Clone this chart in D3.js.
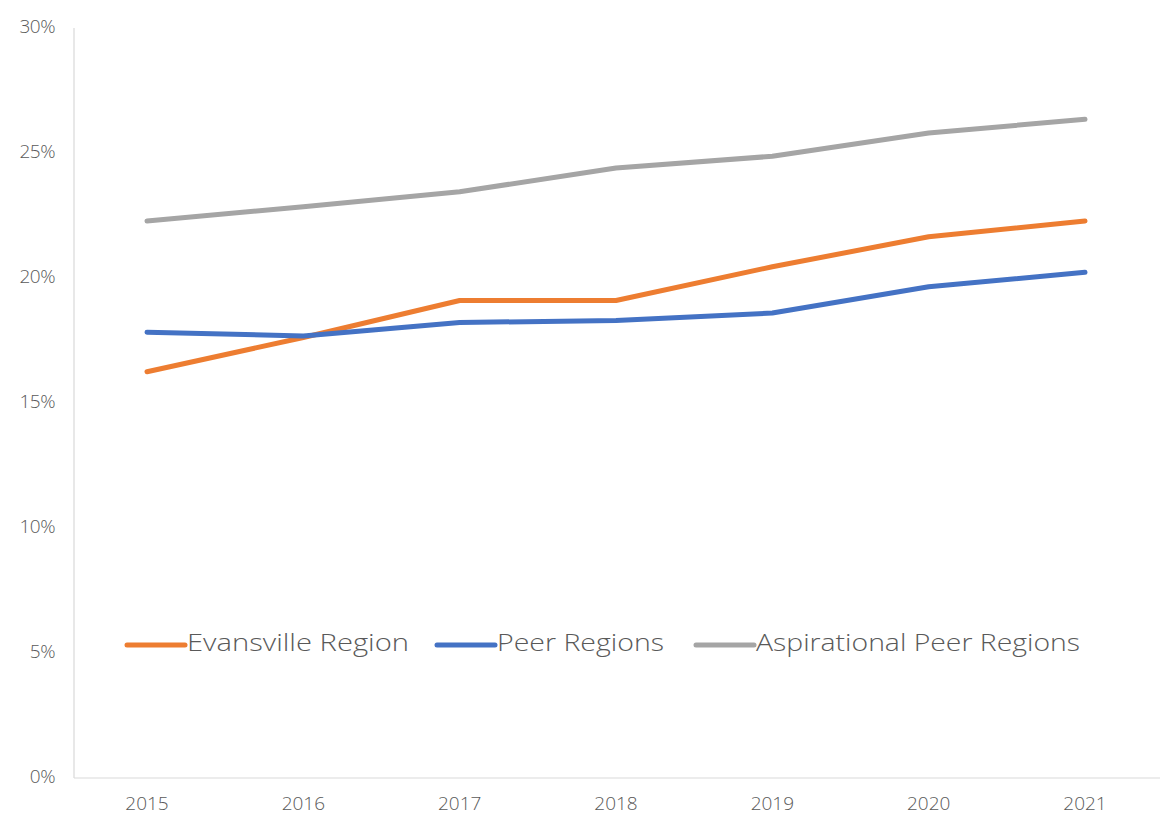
<!DOCTYPE html>
<html>
<head>
<meta charset="utf-8">
<script src="https://cdn.jsdelivr.net/npm/d3@7"></script>
<style>
  html, body { margin: 0; padding: 0; background: #fff; }
  svg { display: block; }
  text { font-family: "Open Sans", "Lato", sans-serif; font-weight: 300; fill: #595959; }
</style>
</head>
<body>
<svg id="chart" width="1160" height="818"></svg>
<script>
const years = ["2015", "2016", "2017", "2018", "2019", "2020", "2021"];
const evansville = [16.25, 17.62, 19.1, 19.1, 20.45, 21.65, 22.28];
const peer = [17.83, 17.68, 18.22, 18.3, 18.6, 19.65, 20.23];
const aspirational = [22.28, 22.85, 23.45, 24.4, 24.87, 25.8, 26.35];
const yTicks = [0, 5, 10, 15, 20, 25, 30];
const seriesNames = ["Evansville Region", "Peer Regions", "Aspirational Peer Regions"];
const seriesColors = ["#ED7D31", "#4472C4", "#A5A5A5"];

const series = [evansville, peer, aspirational].map((vals, i) => ({
  name: seriesNames[i], color: seriesColors[i],
  values: vals.map((v, j) => ({ year: years[j], value: v }))
}));

const svg = d3.select("#chart");
const plotLeft = 74, plotTop = 28, plotBottom = 778;

const x = d3.scalePoint().domain(years).range([147, 1085]);
const y = d3.scaleLinear().domain([0, 30]).range([plotBottom, plotTop]);

// axis lines
svg.append("line").attr("x1", plotLeft).attr("x2", plotLeft)
  .attr("y1", plotTop).attr("y2", plotBottom)
  .attr("stroke", "#d9d9d9").attr("stroke-width", 1.2);
svg.append("line").attr("x1", plotLeft).attr("x2", 1160)
  .attr("y1", plotBottom).attr("y2", plotBottom)
  .attr("stroke", "#d9d9d9").attr("stroke-width", 1.2);

// y tick labels
svg.append("g").selectAll("text").data(yTicks).join("text")
  .attr("x", 55).attr("y", d => y(d))
  .attr("text-anchor", "end").attr("dominant-baseline", "middle")
  .attr("font-size", 19)
  .attr("letter-spacing", -0.5)
  .text(d => d + "%");

// x tick labels
svg.append("g").selectAll("text").data(years).join("text")
  .attr("x", d => x(d)).attr("y", 810)
  .attr("text-anchor", "middle")
  .attr("font-size", 19)
  .text(d => d);

// lines
const line = d3.line()
  .x(d => x(d.year))
  .y(d => y(d.value));

svg.append("g").selectAll("path").data(series).join("path")
  .attr("d", d => line(d.values))
  .attr("fill", "none")
  .attr("stroke", d => d.color)
  .attr("stroke-width", 5)
  .attr("stroke-linejoin", "round")
  .attr("stroke-linecap", "round");

// legend
const legendX = [127, 437, 696];
const legendTextW = [222, 167, 324];
const legendY = 645;
const lg = svg.append("g").selectAll("g").data(series).join("g")
  .attr("transform", (d, i) => `translate(${legendX[i]},${legendY})`);
lg.append("line").attr("x1", 0).attr("x2", 58).attr("y1", 0).attr("y2", 0)
  .attr("stroke", d => d.color).attr("stroke-width", 5).attr("stroke-linecap", "round");
lg.append("text").attr("x", 60).attr("y", 0)
  .attr("dominant-baseline", "middle")
  .attr("font-size", 23)
  .attr("textLength", (d, i) => legendTextW[i])
  .attr("lengthAdjust", "spacingAndGlyphs")
  .text(d => d.name);
</script>
</body>
</html>
